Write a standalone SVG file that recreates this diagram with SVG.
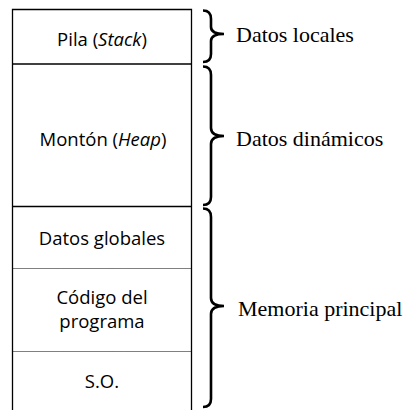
<svg xmlns="http://www.w3.org/2000/svg" width="408" height="410" viewBox="0 0 408 410">
  <style>
    .cell { font-family: "Open Sans", "Liberation Sans", sans-serif; font-size: 18.5px; fill: #000; text-anchor: middle; }
    .lbl { font-family: "Liberation Serif", "DejaVu Serif", serif; font-size: 22px; fill: #000; }
    .edge { stroke: #000; stroke-width: 1.3; fill: none; }
    .dot { stroke: #000; stroke-width: 1; stroke-dasharray: 1 1; fill: none; }
    .brace { stroke: #000; stroke-width: 2.6; fill: none; stroke-linecap: butt; }
  </style>
  <rect width="408" height="410" fill="#fff"/>

  <!-- memory column -->
  <g id="column">
    <path class="edge" d="M12.5,410 V9.5 H191.5 V410"/>
  </g>

  <g id="stack">
    <line class="edge" x1="12.5" y1="64" x2="191.5" y2="64"/>
    <text class="cell" x="102" y="46">Pila (<tspan font-style="italic">Stack</tspan>)</text>
  </g>

  <g id="heap">
    <line class="edge" x1="12.5" y1="206.5" x2="191.5" y2="206.5"/>
    <text class="cell" x="103" y="146">Montón (<tspan font-style="italic">Heap</tspan>)</text>
  </g>

  <g id="globals">
    <line class="dot" x1="12.5" y1="268.5" x2="191.5" y2="268.5"/>
    <text class="cell" x="102" y="245">Datos globales</text>
  </g>

  <g id="code">
    <line class="dot" x1="12.5" y1="351.5" x2="191.5" y2="351.5"/>
    <text class="cell" x="102" y="304">Código del</text>
    <text class="cell" x="102" y="328">programa</text>
  </g>

  <g id="os">
    <text class="cell" x="102" y="388">S.O.</text>
  </g>

  <!-- braces grouping the regions -->
  <g id="connectors">
    <path class="brace" d="M203,10.5 Q211,10.5 211,19 V27 Q211,34 224,34 Q211,34 211,41 V54 Q211,62 203,62"/>
    <path class="brace" d="M203,66.5 Q211,66.5 211,75 V128 Q211,136 224,136 Q211,136 211,144 V197 Q211,205 203,205"/>
    <path class="brace" d="M203,208.5 Q211,208.5 211,217 V298 Q211,306 224,306 Q211,306 211,314 V399 Q211,407 203,407"/>
  </g>

  <g id="labels">
    <text class="lbl" x="236" y="42">Datos locales</text>
    <text class="lbl" x="236" y="146">Datos dinámicos</text>
    <text class="lbl" x="238" y="316">Memoria principal</text>
  </g>
</svg>
